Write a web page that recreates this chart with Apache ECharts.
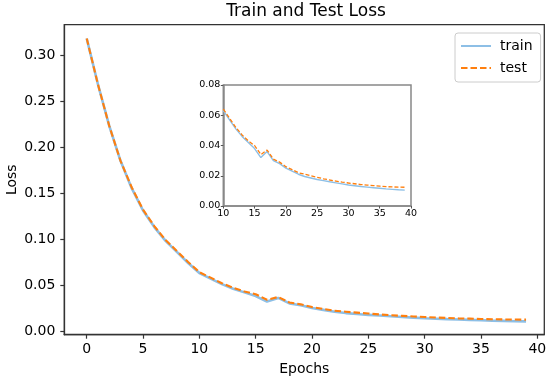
<!DOCTYPE html>
<html>
<head>
<meta charset="utf-8">
<script src="https://cdn.jsdelivr.net/npm/echarts@6/dist/echarts.min.js"></script>
<style>html,body{margin:0;padding:0;background:#fff}#c{width:550px;height:384px}</style>
</head>
<body>
<div id="c"></div>
<script>
const epochs = [0,1,2,3,4,5,6,7,8,9,10,11,12,13,14,15,16,17,18,19,20,21,22,23,24,25,26,27,28,29,30,31,32,33,34,35,36,37,38,39];
const trainLoss = [0.318,0.268,0.223,0.185,0.155,0.131,0.113,0.098,0.086,0.074,0.063,0.057,0.051,0.046,0.042,0.038,0.032,0.036,0.030,0.028,0.025,0.023,0.021,0.0195,0.0185,0.0175,0.0168,0.016,0.0153,0.0146,0.0139,0.0134,0.0129,0.0125,0.0121,0.0117,0.0113,0.011,0.0107,0.0105];
const testLoss = [0.318,0.268,0.223,0.185,0.156,0.132,0.114,0.099,0.087,0.075,0.064,0.058,0.052,0.047,0.043,0.040,0.034,0.037,0.031,0.029,0.026,0.024,0.022,0.021,0.020,0.019,0.018,0.0172,0.0165,0.0158,0.0152,0.0147,0.0142,0.0138,0.0135,0.0131,0.0128,0.0126,0.0125,0.0124];
const mainXTicks = [0,5,10,15,20,25,30,35,40];
const mainYTicks = [0,0.05,0.10,0.15,0.20,0.25,0.30];
const insetStart = 10;

const font = 'DejaVu Sans';
const pairs = (arr, from) => epochs.map((e,i)=>[e,arr[i]]).filter(p=>p[0]>=from);
const blue = '#8dbfe6', orange = '#ff7f0e';

const chart = echarts.init(document.getElementById('c'), null, {renderer:'canvas'});
chart.setOption({
  animation:false,
  backgroundColor:'#fff',
  textStyle:{fontFamily:font},
  title:{text:'Train and Test Loss', left:306, top:3, textAlign:'center', padding:0,
    textStyle:{fontFamily:font, fontSize:17, fontWeight:'normal', color:'#000'}},
  legend:{orient:'vertical', left:455, top:33, data:['train','test'],
    itemWidth:30, itemHeight:14, itemGap:8, padding:[6,8,7,5],
    backgroundColor:'#fff', borderColor:'#ccc', borderWidth:1, borderRadius:3,
    itemStyle:{opacity:0, borderWidth:0},
    textStyle:{fontFamily:font, fontSize:14, color:'#000', padding:[0,0,0,4]}},
  grid:[
    {left:64.3, top:24.7, width:480, height:310, show:true, borderColor:'#333', borderWidth:1.3, backgroundColor:'#fff', containLabel:false, outerBoundsMode:'none'},
    {left:223.3, top:85, width:187.7, height:121, show:true, borderColor:'#888', borderWidth:1.5, backgroundColor:'#fff', containLabel:false, outerBoundsMode:'none', z:5}
  ],
  xAxis:[
    {type:'value', gridIndex:0, min:-1.99, max:40.62,
     name:'Epochs', nameLocation:'middle', nameGap:28, nameMoveOverlap:false,
     nameTextStyle:{fontFamily:font, fontSize:14, color:'#000'},
     axisLine:{show:true, onZero:false, lineStyle:{color:'#333', width:1.3}}, splitLine:{show:false},
     axisTick:{show:true, inside:false, length:4, customValues:mainXTicks, lineStyle:{color:'#333', width:1.2}},
     axisLabel:{show:true, margin:8, customValues:mainXTicks, fontFamily:font, fontSize:14, color:'#000', formatter:v=>String(v)}},
    {type:'value', gridIndex:1, min:10, max:40, interval:5, z:6,
     axisLine:{show:true, onZero:false, lineStyle:{color:'#888', width:1.5}}, splitLine:{show:false},
     axisTick:{show:true, inside:false, length:2.5, lineStyle:{color:'#555', width:1}},
     axisLabel:{show:true, margin:3, fontFamily:font, fontSize:9.5, color:'#000', formatter:v=>String(v)}}
  ],
  yAxis:[
    {type:'value', gridIndex:0, min:-0.004, max:0.333,
     name:'Loss', nameLocation:'middle', nameGap:45, nameRotate:90, nameMoveOverlap:false,
     nameTextStyle:{fontFamily:font, fontSize:14, color:'#000'},
     axisLine:{show:true, onZero:false, lineStyle:{color:'#333', width:1.3}}, splitLine:{show:false},
     axisTick:{show:true, inside:false, length:4, customValues:mainYTicks, lineStyle:{color:'#333', width:1.2}},
     axisLabel:{show:true, margin:9, customValues:mainYTicks, fontFamily:font, fontSize:14, color:'#000', formatter:v=>v.toFixed(2)}},
    {type:'value', gridIndex:1, min:0, max:0.08, interval:0.02, z:6,
     axisLine:{show:true, onZero:false, lineStyle:{color:'#888', width:1.5}}, splitLine:{show:false},
     axisTick:{show:true, inside:false, length:2.5, lineStyle:{color:'#555', width:1}},
     axisLabel:{show:true, margin:3, fontFamily:font, fontSize:9.5, color:'#000', formatter:v=>v.toFixed(2)}}
  ],
  series:[
    {name:'train', type:'line', xAxisIndex:0, yAxisIndex:0, data:pairs(trainLoss,0), symbol:'none', showSymbol:false,
     lineStyle:{color:blue, width:2.6}, itemStyle:{color:blue}, z:2},
    {name:'test', type:'line', xAxisIndex:0, yAxisIndex:0, data:pairs(testLoss,0), symbol:'none', showSymbol:false,
     lineStyle:{color:orange, width:2.1, type:[6.5,3]}, itemStyle:{color:orange}, z:3},
    {name:'train', type:'line', xAxisIndex:1, yAxisIndex:1, data:pairs(trainLoss,insetStart), symbol:'none', showSymbol:false,
     lineStyle:{color:blue, width:1.4}, itemStyle:{color:blue}, z:7},
    {name:'test', type:'line', xAxisIndex:1, yAxisIndex:1, data:pairs(testLoss,insetStart), symbol:'none', showSymbol:false,
     lineStyle:{color:orange, width:1.3, type:[4,2]}, itemStyle:{color:orange}, z:8}
  ]
});
</script>
</body>
</html>
